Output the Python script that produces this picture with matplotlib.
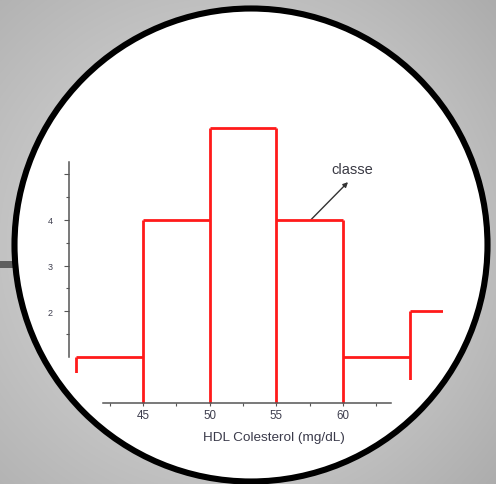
import numpy as np
import matplotlib
matplotlib.use("Agg")
import matplotlib.pyplot as plt
from matplotlib.patches import Circle, Rectangle, Polygon

plt.rcParams['font.family'] = ['Liberation Sans', 'DejaVu Sans']

# ---- data ----
bin_edges = [40, 45, 50, 55, 60, 65, 70]
counts = [1, 4, 6, 4, 1, 2]
x_major_ticks = [45, 50, 55, 60]
x_tick_labels = ["45", "50", "55", "60"]
x_minor_ticks = [42.5, 47.5, 52.5, 57.5, 62.5]
y_major_ticks = [2, 3, 4, 5]
y_tick_labels = ["2", "3", "4", ""]
y_minor_ticks = [1.5, 2.5, 3.5, 4.5]
x_label = "HDL Colesterol (mg/dL)"
note_text = "classe"

W, H = 496, 485
fig = plt.figure(figsize=(W / 100, H / 100), dpi=100)

# ---- background (pixel coordinates) ----
bg = fig.add_axes([0, 0, 1, 1])
bg.set_xlim(0, W)
bg.set_ylim(H, 0)
bg.axis('off')
cx, cy = 251, 246
yy, xx = np.mgrid[0:H, 0:W]
r = np.hypot(xx - cx, yy - cy)
val = 0.765 - (r - 245) * 0.0006 - (xx / W) * 0.03
val = np.clip(val, 0, 1)
bg.imshow(np.dstack([val, val, val]), extent=(0, W, H, 0), zorder=0, aspect='auto')
bg.add_patch(Rectangle((0, 262), 14, 7, facecolor='#5e5e5e', edgecolor='none', zorder=1))
bg.add_patch(Circle((cx, cy), 236.5, facecolor='white', edgecolor='black',
                    linewidth=4.4, zorder=2))

# ---- chart axes ----
px_per_x = 13.333
px_per_y = 45.83
x0_px, y0_px = 143, 404  # pixel of x=45, y=0
xlim = (38, 68)
ylim = (-1, 7)
left_px = x0_px + (xlim[0] - 45) * px_per_x
width_px = (xlim[1] - xlim[0]) * px_per_x
bottom_px = y0_px - ylim[0] * px_per_y
height_px = (ylim[1] - ylim[0]) * px_per_y
ax = fig.add_axes([left_px / W, (H - bottom_px) / H, width_px / W, height_px / H])
ax.set_xlim(*xlim)
ax.set_ylim(*ylim)
ax.patch.set_visible(False)
ax.set_zorder(5)

axis_color = '#555555'
for s in ['top', 'right']:
    ax.spines[s].set_visible(False)
ax.spines['left'].set_position(('data', 39.45))
ax.spines['left'].set_bounds(1.0, 5.26)
ax.spines['bottom'].set_position(('data', 0))
ax.spines['bottom'].set_bounds(42, 63.6)
for s in ['left', 'bottom']:
    ax.spines[s].set_color(axis_color)
    ax.spines[s].set_linewidth(1.1)
    ax.spines[s].set_zorder(6)

ax.set_xticks(x_major_ticks)
ax.set_xticklabels(x_tick_labels)
ax.set_xticks(x_minor_ticks, minor=True)
ax.set_yticks(y_major_ticks)
ax.set_yticklabels(y_tick_labels)
ax.set_yticks(y_minor_ticks, minor=True)
tick_color = '#3e3e4e'
ax.tick_params(axis='x', which='major', direction='out', length=2.5, width=0.8,
               color=axis_color, labelsize=8.3, labelcolor=tick_color, pad=1.5)
ax.tick_params(axis='x', which='minor', direction='out', length=2.0, width=0.8,
               color=axis_color)
ax.tick_params(axis='y', which='major', direction='out', length=3.5, width=0.8,
               color=axis_color, labelsize=6.5, labelcolor=tick_color, pad=8)
ax.tick_params(axis='y', which='minor', direction='out', length=2.0, width=0.8,
               color=axis_color)

# ---- histogram outline ----
edges = np.array(bin_edges, dtype=float)
c = np.array(counts, dtype=float)
padded = np.concatenate([[0], c, [0]])
vert_tops = np.maximum(padded[:-1], padded[1:])
red = '#ff1a1a'
clip = Polygon([(39, 7.5), (67.5, 7.5), (67.5, 0.5), (61, 0.5), (61, -0.3),
                (44, -0.3), (44, 0.66), (39, 0.66)], closed=True,
               transform=ax.transData, facecolor='none', edgecolor='none')
ax.add_patch(clip)
hl = ax.hlines(c, edges[:-1], edges[1:], colors=red, linewidth=2.0, zorder=4)
vl = ax.vlines(edges, 0, vert_tops, colors=red, linewidth=2.0, zorder=4)
hl.set_clip_path(clip)
vl.set_clip_path(clip)

# ---- annotation ----
ax.annotate('', xy=(60.375, 4.82), xytext=(57.6, 4.0),
            arrowprops=dict(arrowstyle='-|>', color='#333333', lw=1.0,
                            mutation_scale=7, shrinkA=0, shrinkB=0))
ax.text(60.68, 5.11, note_text, ha='center', va='center', fontsize=10.5,
        color='#3a3a44')
ax.text(54.8, -0.742, x_label, ha='center', va='center', fontsize=9.7,
        color='#3a3a4a')

fig.savefig('out.png', dpi=100)
